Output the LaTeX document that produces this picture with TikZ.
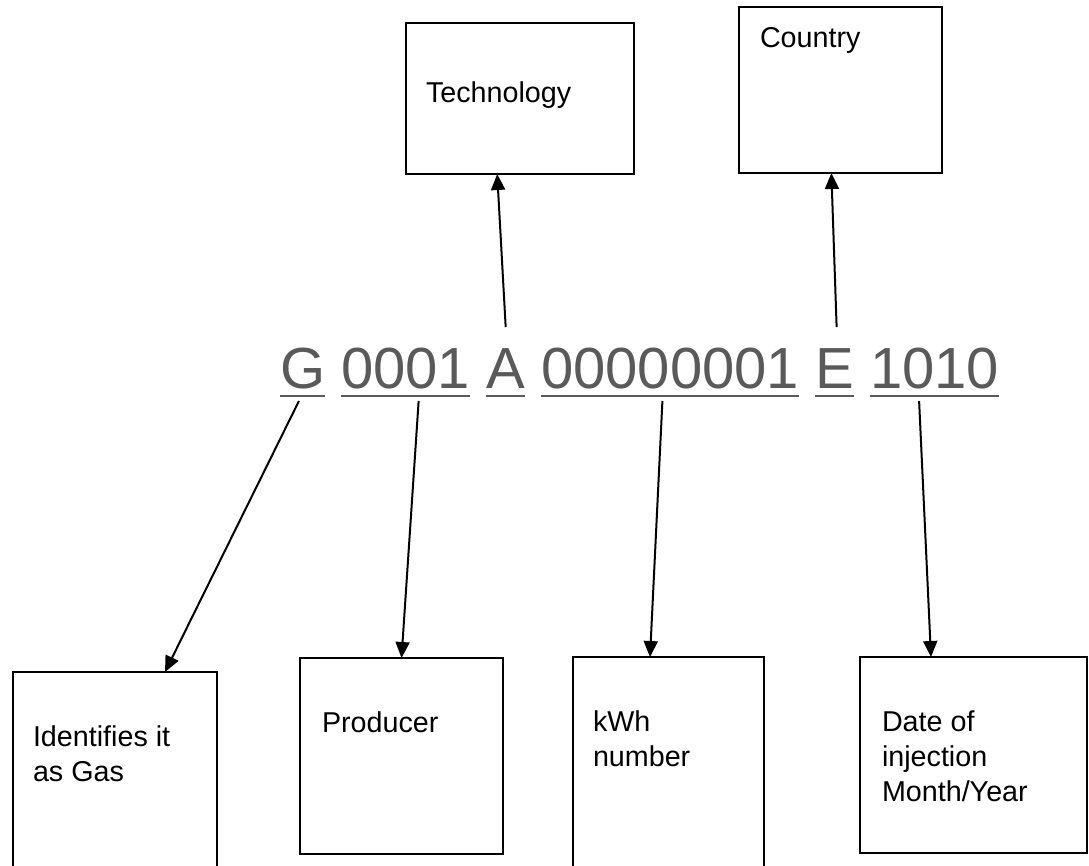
\documentclass[tikz,border=0pt]{standalone}
\usepackage{fontspec}
\setmainfont{Liberation Sans}
\usetikzlibrary{calc,arrows.meta}
\definecolor{codegray}{HTML}{5A5A5A}
\begin{document}
\begin{tikzpicture}[x=1pt,y=-1pt,
  boxx/.style={draw=black,line width=2.2pt,fill=none,inner sep=0pt,outer sep=0pt,anchor=north west},
  lbl/.style={inner sep=0pt,outer sep=0pt,font=\fontsize{28.7}{35}\selectfont,text=black,align=left},
  tok/.style={inner sep=0pt,outer sep=0pt,font=\fontsize{58}{70}\selectfont,text=codegray,anchor=base west},
  uline/.style={draw=codegray,line width=2.6pt},
  arr/.style={draw=black,line width=2pt,-{Triangle[length=16pt,width=14pt]}}]
\useasboundingbox (0,0) rectangle (1089,865);
% top boxes
\node[boxx,minimum width=228pt,minimum height=151pt] (tech) at (406,23) {};
\node[lbl,anchor=base west] (techT) at (426,102) {Technology};
\node[boxx,minimum width=203pt,minimum height=166pt] (country) at (739,7) {};
\node[lbl,anchor=base west] (countryT) at (760,47) {Country};
% code tokens
\node[tok] (tG) at (280,388) {G};
\node[tok] (t1) at ($(tG.base east)+(16.1,0)$) {0001};
\node[tok] (tA) at ($(t1.base east)+(16.1,0)$) {A};
\node[tok] (t2) at ($(tA.base east)+(16.1,0)$) {00000001};
\node[tok] (tE) at ($(t2.base east)+(16.1,0)$) {E};
\node[tok] (t3) at ($(tE.base east)+(16.1,0)$) {1010};
\foreach \t in {tG,t1,tA,t2,tE,t3}{
  \draw[uline] ([yshift=-8pt]\t.base west) -- ([yshift=-8pt]\t.base east);
}
% bottom boxes
\clip (0,0) rectangle (1089,865);
\node[boxx,minimum width=204pt,minimum height=230pt] (gas) at (13,672) {};
\node[lbl,anchor=north west] (gasT) at (33,726) {Identifies it\\as Gas};
\node[boxx,minimum width=203pt,minimum height=196pt] (prod) at (300,658) {};
\node[lbl,anchor=base west] (prodT) at (322,732) {Producer};
\node[boxx,minimum width=191pt,minimum height=240pt] (kwh) at (573,657) {};
\node[lbl,anchor=north west] (kwhT) at (593,711) {kWh\\number};
\node[boxx,minimum width=227pt,minimum height=196pt] (date) at (860,657) {};
\node[lbl,anchor=north west] (dateT) at (882,711) {Date of\\injection\\Month/Year};
% arrow end points
\coordinate (techTip) at ($(tech.south west)!0.40!(tech.south east)$);
\coordinate (countryTip) at ($(country.south west)!0.455!(country.south east)$);
\coordinate (aTail) at ($(tA.north)+(0,-21)$);
\coordinate (eTail) at ($(tE.north)+(2,-21)$);
\coordinate (gTail) at ($(tG.base west)!0.42!(tG.base east)+(0,13)$);
\coordinate (t1Tail) at ($(t1.base west)!0.60!(t1.base east)+(0,13)$);
\coordinate (t2Tail) at ($(t2.base west)!0.47!(t2.base east)+(0,13)$);
\coordinate (t3Tail) at ($(t3.base west)!0.38!(t3.base east)+(0,13)$);
\coordinate (gasTip) at ($(gas.north west)+(152,0)$);
\coordinate (kwhTip) at ($(kwh.north west)+(77,0)$);
\coordinate (dateTip) at ($(date.north west)+(71,0)$);
% connectors
\draw[arr] (aTail) -- (techTip);
\draw[arr] (eTail) -- (countryTip);
\draw[arr] (gTail) -- (gasTip);
\draw[arr] (t1Tail) -- (prod.north);
\draw[arr] (t2Tail) -- (kwhTip);
\draw[arr] (t3Tail) -- (dateTip);
\end{tikzpicture}
\end{document}
